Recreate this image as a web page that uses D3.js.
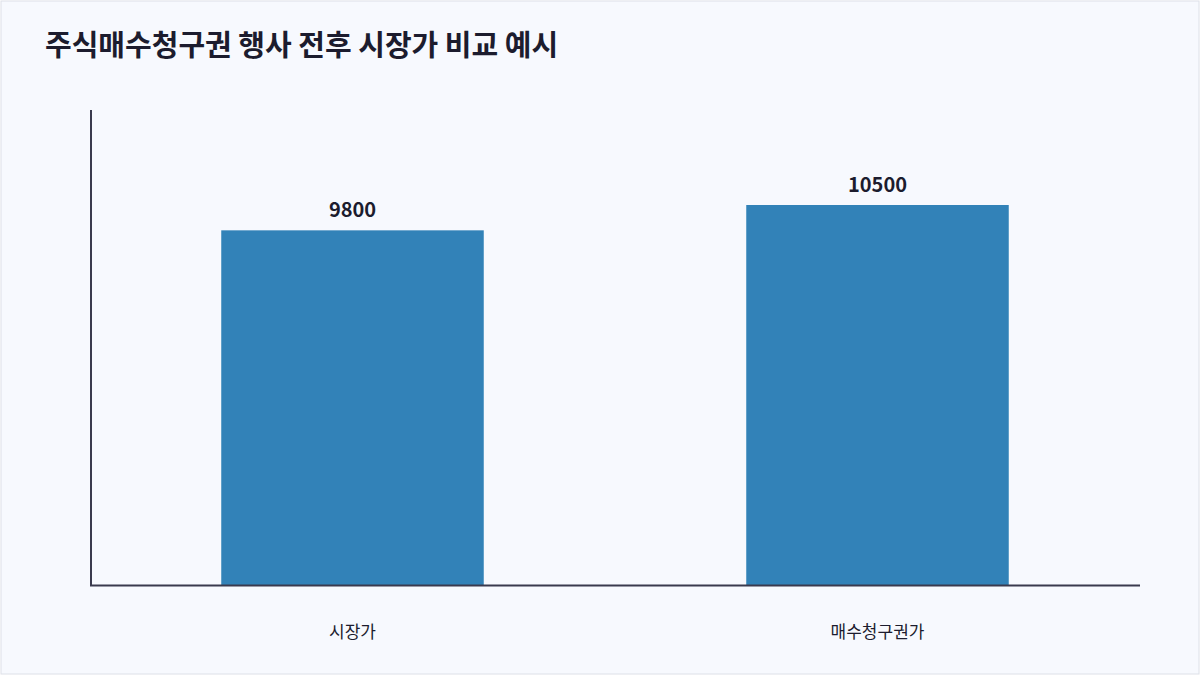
<!DOCTYPE html><html><head><meta charset="utf-8"><script src="https://cdn.jsdelivr.net/npm/d3@7"></script>
<style>body{margin:0;background:#fff}svg{display:block;font-family:"Noto Sans CJK KR","Noto Sans",sans-serif}</style></head><body><svg width="1200" height="675"></svg>
<script>
const categories=["시장가","매수청구권가"];
const values=[9800,10500];
const svg=d3.select("svg");
svg.append("rect").attr("x",1).attr("y",1).attr("width",1198).attr("height",673).attr("fill","#f7f9fe").attr("stroke","#dde0e8");
svg.append("text").attr("x",45).attr("y",56).attr("font-size",29).attr("font-weight",700).attr("fill","#1c1c2e").text("주식매수청구권 행사 전후 시장가 비교 예시");
const x=d3.scaleBand().domain(categories).range([90,1140]).paddingInner(0.5).paddingOuter(0.25);
const y=d3.scaleLinear().domain([0,10500*1.25]).range([585,110]);
svg.selectAll(".b").data(values).join("rect").attr("x",(d,i)=>x(categories[i])).attr("y",d=>y(d)).attr("width",x.bandwidth()).attr("height",d=>585-y(d)).attr("fill","#3282b8");
svg.selectAll(".v").data(values).join("text").attr("x",(d,i)=>x(categories[i])+x.bandwidth()/2).attr("y",d=>y(d)-13).attr("text-anchor","middle").attr("font-size",20).attr("font-weight",700).attr("fill","#1c1c2e").text(d=>d);
svg.selectAll(".c").data(categories).join("text").attr("x",d=>x(d)+x.bandwidth()/2).attr("y",638).attr("text-anchor","middle").attr("font-size",17).attr("fill","#1c1c2e").text(d=>d);
svg.append("line").attr("x1",90).attr("x2",1140).attr("y1",585.5).attr("y2",585.5).attr("stroke","#3a3a4e").attr("stroke-width",2);
svg.append("line").attr("x1",91).attr("x2",91).attr("y1",110).attr("y2",586).attr("stroke","#3a3a4e").attr("stroke-width",2);
</script></body></html>
